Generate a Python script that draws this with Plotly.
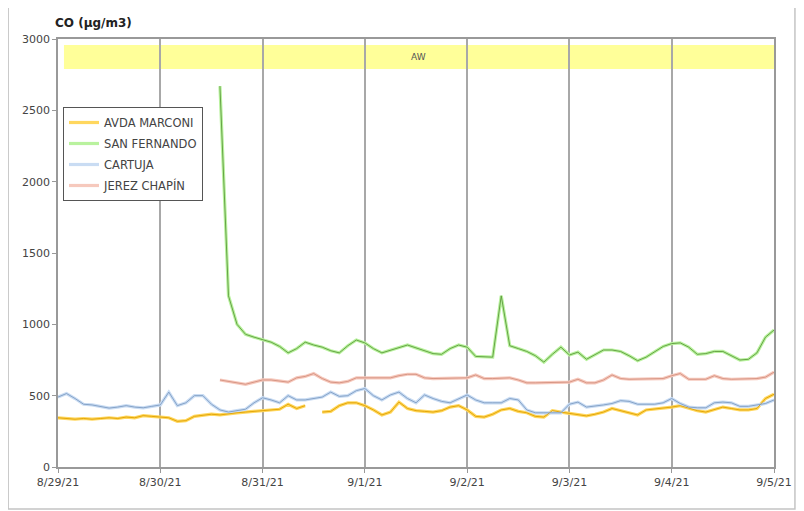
import pandas as pd
import plotly.graph_objects as go

# ---------------- data ----------------
start = "2021-08-29 00:00"
step_hours = 2
times = pd.date_range(start, periods=85, freq=f"{step_hours}h")

N = None
avda_marconi = [345, 340, 335, 340, 335, 340, 345, 340, 350, 345, 360, 355,
                350, 345, 320, 325, 355, 360, 370, 365, 375, 380, 385, 390,
                400, 400, 405, 440, 410, 430, N, 385, 390, 430, 450, 450,
                430, 400, 365, 385, 455, 410, 395, 390, 385, 395, 420, 430,
                400, 355, 350, 370, 400, 410, 390, 380, 355, 350, 395, 385,
                375, 365, 358, 370, 385, 410, 395, 375, 365, 400, 405, 415,
                420, 430, 410, 395, 385, 400, 420, 410, 400, 400, 410, 480,
                510]
san_fernando = [N] * 19 + [2670, 1200, 1000, 930, 910,
                890, 875, 845, 800, 830, 875, 855, 840, 815, 800, 850, 890,
                870, 830, 800, 820, 840, 855, 835, 815, 795, 790, 830, 855,
                840, 775, 770, 770, 1200, 850, 830, 810, 780, 735, 790, 840,
                785, 805, 755, 790, 820, 820, 810, 780, 745, 770, 810, 845,
                865, 870, 840, 790, 795, 810, 810, 780, 750, 755, 800, 910,
                960]
cartuja = [490, 515, 480, 440, 435, 425, 413, 420, 430, 420, 415, 425,
           435, 525, 430, 450, 500, 500, 440, 400, 385, 395, 405, 450,
           485, 470, 450, 500, 470, 470, 480, 490, 525, 495, 500, 535,
           550, 500, 470, 505, 525, 480, 450, 505, 480, 460, 450, 475,
           505, 470, 450, 450, 450, 480, 470, 400, 380, 380, 380, 380,
           440, 455, 420, 425, 435, 445, 465, 460, 440, 440, 440, 450,
           480, 445, 420, 415, 415, 450, 455, 450, 425, 425, 435, 445,
           470]
jerez_chapin = [N] * 19 + [610, 600, 590, 580, 595,
                610, 610, 600, 595, 625, 635, 655, 620, 595, 590, 600, 625,
                625, 625, 625, 625, 640, 650, 650, 625, 620, 620, 620, 620,
                625, 645, 620, 620, 625, 625, 610, 590, 590, 590, 590, 595,
                595, 615, 590, 590, 610, 645, 620, 615, 615, 615, 615, 620,
                640, 655, 615, 615, 615, 640, 620, 615, 615, 615, 620, 630,
                665]

series_names = ["AVDA MARCONI", "SAN FERNANDO", "CARTUJA", "JEREZ CHAPÍN"]
series_values = [avda_marconi, san_fernando, cartuja, jerez_chapin]

tick_dates = pd.date_range("2021-08-29", "2021-09-05", freq="D")
tick_labels = ["8/29/21", "8/30/21", "8/31/21", "9/1/21", "9/2/21",
               "9/3/21", "9/4/21", "9/5/21"]
y_ticks = [0, 500, 1000, 1500, 2000, 2500, 3000]

aw_label = "AW"
aw_start = "2021-08-29 01:24"
aw_end = "2021-09-05 00:00"
aw_low, aw_high = 2790, 2958

y_title = "CO (µg/m3)"

# ---------------- styles ----------------
halo_colors = ["#FFD75E", "#B9F29E", "#C9DCF3", "#F6C9BD"]
core_colors = ["#E0A000", "#5C9A3C", "#7E9CC2", "#D4907E"]

fig = go.Figure()
for name, vals, hc, cc in zip(series_names, series_values, halo_colors, core_colors):
    fig.add_trace(go.Scatter(x=times, y=vals, name=name, mode="lines",
                             line=dict(color=hc, width=3.2), connectgaps=False,
                             legendgroup=name))
for name, vals, hc, cc in zip(series_names, series_values, halo_colors, core_colors):
    fig.add_trace(go.Scatter(x=times, y=vals, name=name, mode="lines",
                             line=dict(color=cc, width=0.9), connectgaps=False,
                             legendgroup=name, showlegend=False))

# AW band
fig.add_shape(type="rect", xref="x", yref="y", x0=aw_start, x1=aw_end,
              y0=aw_low, y1=aw_high, fillcolor="#FFFF99", line=dict(width=0),
              layer="below")
fig.add_annotation(x=pd.Timestamp(aw_start) + (pd.Timestamp(aw_end) - pd.Timestamp(aw_start)) / 2,
                   y=(aw_low + aw_high) / 2, xref="x", yref="y", text=aw_label,
                   showarrow=False, font=dict(size=9, color="#555", family="DejaVu Sans"))

# outer frame
fig.add_shape(type="rect", xref="paper", yref="paper",
              x0=(8 - 58) / 718, x1=(797 - 58) / 718,
              y0=(467 - 509) / 428, y1=(467 - 5) / 428,
              line=dict(color="#C4C4C4", width=1.5), fillcolor="rgba(0,0,0,0)")

fig.add_annotation(x=(53 - 58) / 718, y=(467 - 23) / 428, xref="paper", yref="paper",
                   text=f"<b>{y_title}</b>", showarrow=False, xanchor="left",
                   yanchor="middle", font=dict(size=12, color="#222", family="DejaVu Sans"))

# the page body adds an 8px offset, so the figure is sized to the remaining window
fig.update_layout(
    width=796, height=503,
    margin=dict(l=50, r=28, t=31, b=44),
    paper_bgcolor="white", plot_bgcolor="white",
    font=dict(family="DejaVu Sans", size=11, color="#444"),
    showlegend=True,
    legend=dict(x=(63 - 58) / 718, y=(467 - 107) / 428, xanchor="left", yanchor="top",
                bgcolor="white", bordercolor="#555", borderwidth=1,
                font=dict(size=11.5, color="#444", family="DejaVu Sans"),
                tracegroupgap=2, itemwidth=30),
)
fig.update_xaxes(range=[tick_dates[0], tick_dates[-1]], tickvals=tick_dates,
                 ticktext=tick_labels, showgrid=True, gridcolor="#A8A8A8", gridwidth=1.5,
                 showline=True, linecolor="#999", linewidth=1.5, mirror=True,
                 ticks="outside", ticklen=4, tickcolor="#999", zeroline=False)
fig.update_yaxes(range=[0, 3000], tickvals=y_ticks, showgrid=False,
                 showline=True, linecolor="#999", linewidth=1.5, mirror=True,
                 ticks="outside", ticklen=4, tickcolor="#999", zeroline=False)

fig.write_html("out.html")
